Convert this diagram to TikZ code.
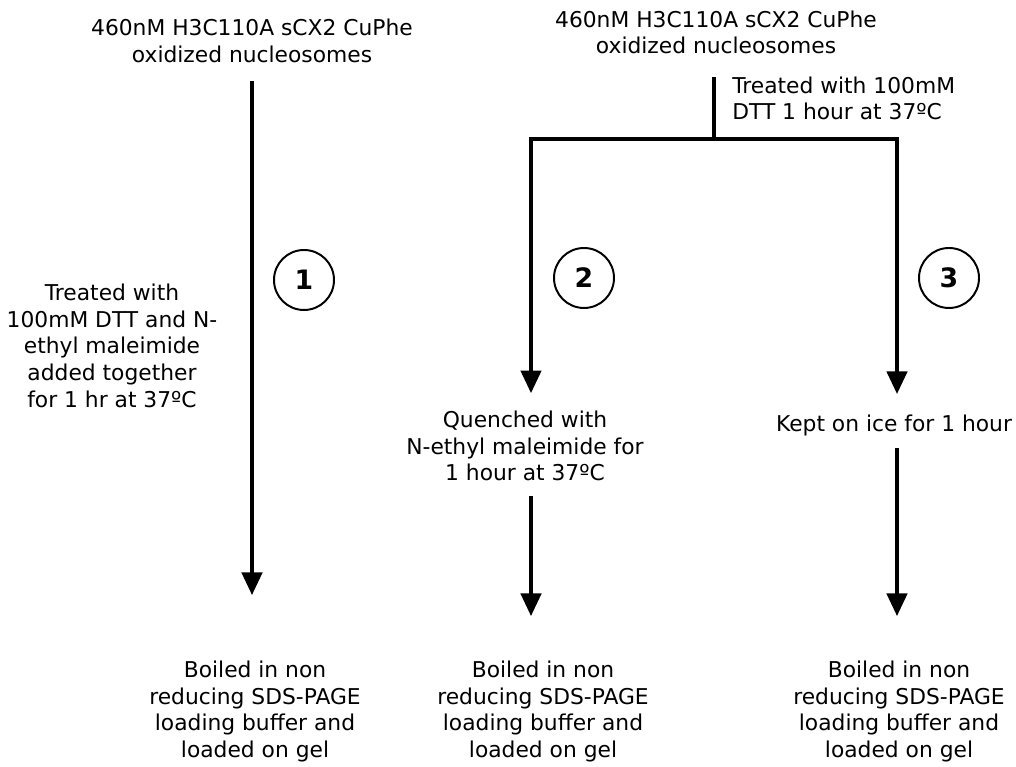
\documentclass[tikz,border=0pt]{standalone}
\usepackage{fontspec}
\setmainfont{DejaVu Sans}
\usepackage{tikz}
\usetikzlibrary{
  arrows.meta,
  positioning,
  calc,
}
\tikzset{
  stage/.style={
    font=\fontsize{15.5}{18.9}\selectfont,
    align=center,
    inner sep=0pt,
    text=black,
  },
  num/.style={
    shape=circle,
    draw=black,
    line width=1.4pt,
    minimum size=1.5cm,
    inner sep=0pt,
    font=\fontsize{19}{22}\selectfont\bfseries,
  },
  wire/.style={line width=3.2pt},
  flow/.style={wire, -{Triangle[width=0.5cm, length=0.57cm]}},
}

\begin{document}
\begin{tikzpicture}[x=1cm,y=1cm]
  \useasboundingbox (0,0) rectangle (25.4,19.175);
  \fill[white] (0,0) rectangle (25.4,19.175);

  % starting material
  \node[stage] (src1) at (6.3,18.158) {460nM H3C110A sCX2 CuPhe\\oxidized nucleosomes};
  \node[stage] (src2) at (17.9,18.37) {460nM H3C110A sCX2 CuPhe\\oxidized nucleosomes};
  \node[stage, anchor=west, align=left] (dtt) at (18.3,16.72) {Treated with 100mM\\DTT 1 hour at 37ºC};

  % treatments
  \node[stage] (mix) at (2.8,10.53) {Treated with\\100mM DTT and N-\\ethyl maleimide\\added together\\for 1 hr at 37ºC};
  \node[stage] (quench) at (13.125,8.025) {Quenched with\\N-ethyl maleimide for\\1 hour at 37ºC};
  \node[stage] (ice) at (22.35,8.54) {Kept on ice for 1 hour};

  % gel
  \node[stage] (boil1) at (6.375,1.392) {Boiled in non\\reducing SDS-PAGE\\loading buffer and\\loaded on gel};
  \node[stage] (boil2) at (13.575,1.392) {Boiled in non\\reducing SDS-PAGE\\loading buffer and\\loaded on gel};
  \node[stage] (boil3) at (22.475,1.392) {Boiled in non\\reducing SDS-PAGE\\loading buffer and\\loaded on gel};

  % sample numbers
  \node[num] (n1) at (7.6,12.175) {1};
  \node[num] (n2) at (14.6,12.225) {2};
  \node[num] (n3) at (23.725,12.225) {3};

  % branch points
  \coordinate (split) at (17.85,15.7);
  \coordinate (left) at (13.275,15.7);
  \coordinate (right) at (22.425,15.7);

  % sample 1
  \draw[flow, shorten <=0.45cm, shorten >=1.635cm] (src1.south) -- (src1.south |- boil1.north);

  % samples 2 and 3
  \draw[wire, shorten <=0.575cm] (split |- src2.south) -- (split);
  \draw[wire, {Triangle[width=0.5cm, length=0.57cm]}-{Triangle[width=0.5cm, length=0.57cm]},
        shorten <=0.435cm, shorten >=0.51cm]
    (left |- quench.north) -- (left) -- (right) -- (right |- ice.north);
  \draw[flow, shorten <=0.375cm, shorten >=1.11cm] (left |- quench.south) -- (left |- boil2.north);
  \draw[flow, shorten <=0.295cm, shorten >=1.11cm] (right |- ice.south) -- (right |- boil3.north);
\end{tikzpicture}
\end{document}
